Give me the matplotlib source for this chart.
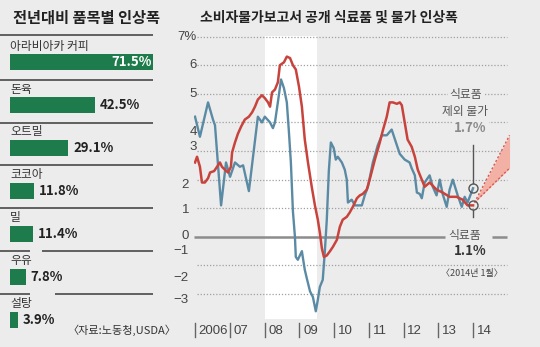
import matplotlib
matplotlib.use('Agg')
import matplotlib.pyplot as plt
from matplotlib import font_manager
from matplotlib.transforms import blended_transform_factory as btf

plt.rcParams['font.family'] = ['Noto Sans CJK KR', 'DejaVu Sans']

# ---------------- data ----------------
items = ['아라비아카 커피', '돈육', '오트밀', '코코아', '밀', '우유', '설탕']
item_pct = [71.5, 42.5, 29.1, 11.8, 11.4, 7.8, 3.9]

years = ['2006', '07', '08', '09', '10', '11', '12', '13', '14']
year_month = [0, 12, 24, 36, 48, 60, 72, 84, 96]   # months since Jan 2006

# non-food CPI (식료품 제외 물가), months since Jan 2006
blue_m = [0, 1.7, 4.5, 6.2, 6.9, 9.0, 10.7, 12.1, 13.8, 15.5, 16.6, 18.6, 21.7, 23.1,
          24.1, 25.9, 26.9, 27.6, 28.6, 29.7, 30.7, 31.7, 32.4, 33.1, 33.8, 34.5, 34.8,
          35.5, 36.9, 37.2, 37.9, 38.6, 39.7, 40.7, 41.7, 42.4, 43.1, 44.1, 44.8, 45.5,
          46.2, 46.9, 47.9, 48.6, 49.3, 50.7, 51.7, 52.4, 52.8, 54.1, 55.2, 57.6, 58.6,
          59.7, 61.4, 63.1, 64.5, 66.2, 67.9, 69.7, 70.7, 72.4, 74.1, 74.8, 75.9, 76.6,
          77.6, 78.3, 79.3, 81.0, 82.1, 83.4, 84.5, 85.5, 86.9, 87.9, 89.0, 90.7, 92.1,
          93.1, 94.1, 96]
blue_v = [4.2, 3.5, 4.7, 4.1, 3.9, 1.1, 2.6, 2.1, 2.6, 2.45, 2.5, 1.6, 4.2, 4.0,
          4.2, 4.0, 3.8, 4.0, 4.7, 5.5, 5.2, 4.7, 3.7, 2.6, 0.9, 0.0, -0.7,
          -0.8, -0.5, -0.7, -1.15, -1.45, -1.9, -2.1, -2.6, -2.2, -1.75, -1.5, -0.55, 0.6,
          2.3, 3.3, 3.1, 2.7, 2.8, 2.6, 2.35, 2.0, 1.2, 1.3, 1.1, 1.1, 1.45,
          1.75, 2.6, 3.2, 3.55, 3.55, 3.75, 3.2, 2.9, 2.7, 2.6, 2.4, 2.15, 1.55,
          1.5, 1.35, 1.9, 2.15, 1.75, 1.45, 2.0, 1.5, 1.05, 1.65, 2.0, 1.45, 1.05,
          1.4, 1.2, 1.7]

# food CPI (식료품)
red_m = [0, 0.7, 1.7, 2.4, 3.4, 4.5, 5.2, 6.6, 7.6, 8.6, 9.3, 10.3, 11.4, 12.4, 12.8,
         13.8, 14.8, 15.9, 17.2, 18.6, 19.7, 20.7, 21.7, 23.1, 24.1, 25.2, 25.9, 26.6,
         27.6, 28.6, 29.3, 30.7, 31.7, 32.8, 33.8, 34.8, 35.9, 36.9, 37.9, 39.0, 40.3,
         41.4, 42.4, 43.1, 43.8, 44.5, 45.5, 46.6, 47.6, 49.0, 50.0, 51.0, 52.4, 53.4,
         54.5, 55.9, 56.9, 57.9, 59.3, 60.3, 62.1, 63.8, 64.8, 66.2, 67.2, 68.3, 69.7,
         70.7, 71.4, 72.4, 73.4, 74.8, 75.9, 76.9, 78.3, 79.3, 81.0, 83.4, 85.5, 87.9,
         90.3, 92.4, 94.1, 96]
red_v = [2.6, 2.8, 2.45, 1.9, 1.9, 2.05, 2.25, 2.3, 2.45, 2.6, 2.45, 2.35, 2.25, 2.45, 2.95,
         3.3, 3.6, 3.85, 4.1, 4.2, 4.35, 4.55, 4.8, 4.95, 4.85, 4.7, 4.55, 5.05,
         5.15, 5.4, 6.0, 6.1, 6.3, 6.25, 6.0, 5.85, 5.25, 4.55, 3.4, 2.6, 1.75,
         1.1, 0.6, 0.15, -0.4, -0.7, -0.65, -0.5, -0.35, -0.1, 0.35, 0.6, 0.7, 0.85,
         1.05, 1.35, 1.45, 1.5, 1.65, 2.0, 2.7, 3.3, 3.7, 4.2, 4.7, 4.7, 4.65,
         4.7, 4.6, 4.0, 3.4, 3.15, 2.8, 2.35, 2.0, 1.75, 1.9, 1.65, 1.55, 1.4,
         1.4, 1.3, 1.1, 1.1]

# projection cone
proj_m = [96.5, 108.6]
proj_hi = [1.2, 3.55]
proj_lo = [1.2, 2.4]

recession = [24, 42]

ytick_labels = ['7%', '6', '5', '4', '3', '2', '1', '0', '−1', '−2', '−3']
ytick_label_pos = [7, 6, 5, 3.67, 3.15, 1.8, 0.95, 0.02, -0.5, -1.43, -2.2]
grid_vals = [7, 6, 5, 4, 3, 2, 1, -1, -2]

# ---------------- fonts ----------------
def has_font(name):
    try:
        font_manager.findfont(font_manager.FontProperties(family=name),
                              fallback_to_default=False)
        return True
    except Exception:
        return False

narrow = 'Liberation Sans Narrow' if has_font('Liberation Sans Narrow') else 'Liberation Sans'

# ---------------- figure ----------------
W, H = 540, 347
bg = '#ececec'
fig = plt.figure(figsize=(5.4, 3.47), dpi=100)
fig.patch.set_facecolor(bg)


def fr(x0, y0, x1, y1):
    return [x0 / W, 1 - y1 / H, (x1 - x0) / W, (y1 - y0) / H]


# ---- right line chart ----
ax = fig.add_axes(fr(194, 36, 511, 319))
ax.set_facecolor(bg)
ax.set_xlim(-0.35, 109.1)
ax.set_ylim(-2.87, 7.02)
for s in ax.spines.values():
    s.set_visible(False)
ax.set_xticks([])
ax.set_yticks([])

ax.axvspan(recession[0], recession[1], color='white', zorder=0, lw=0)
for v in grid_vals:
    ax.plot([0.7, 107.7], [v, v], color='#a0a0a0', lw=0.9, ls=(0, (1, 1.5)), zorder=1)
ax.plot([-0.35, 86.3], [0, 0], color='#8c8c8c', lw=1.8, zorder=1, solid_capstyle='butt')
ax.plot([102.6, 107.7], [0, 0], color='#8c8c8c', lw=1.8, zorder=1, solid_capstyle='butt')

ax.fill_between(proj_m, proj_lo, proj_hi, color='#f3b0a5', lw=0, zorder=2)
ax.plot(proj_m, proj_hi, color='#d9574c', lw=1, ls=(0, (1.5, 1.5)), zorder=2)
ax.plot(proj_m, proj_lo, color='#d9574c', lw=1, ls=(0, (1.5, 1.5)), zorder=2)

ax.plot(blue_m, blue_v, color='#5b8ba4', lw=1.7, zorder=3)
ax.plot(red_m, red_v, color='#c9433d', lw=1.8, zorder=4)

end_m = blue_m[-1]
ax.plot([end_m], [blue_v[-1]], marker='o', ms=6.5, mfc='none', mec='#555555', mew=1, zorder=5)
ax.plot([end_m], [red_v[-1]], marker='o', ms=6.5, mfc='none', mec='#555555', mew=1, zorder=5)
ax.plot([end_m, end_m], [blue_v[-1] + 0.17, 3.2], color='#555555', lw=1, zorder=5)
ax.plot([end_m, end_m], [red_v[-1] - 0.17, 0.69], color='#555555', lw=1, zorder=5)

bb = dict(facecolor=bg, edgecolor='none', pad=1.5)
ax.text(93.6, 4.98, '식료품', ha='center', va='center', fontsize=8.5, color='#555555', bbox=bb, zorder=6)
ax.text(93.2, 4.38, '제외 물가', ha='center', va='center', fontsize=8.5, color='#555555', zorder=6)
ax.text(95.0, 3.79, '1.7%', ha='center', va='center', fontsize=9.5, fontweight='bold',
        color='#8a8a8a', bbox=bb, zorder=6)
ax.text(93.2, 0.05, '식료품', ha='center', va='center', fontsize=8.5, color='#555555', zorder=6)
ax.text(95.0, -0.5, '1.1%', ha='center', va='center', fontsize=9.5, fontweight='bold',
        color='#333333', zorder=6)
ax.text(95.5, -1.27, '〈2014년 1월〉', ha='center', va='center', fontsize=6.5,
        color='#444444', zorder=6)

# x axis year markers
tr = btf(ax.transData, ax.transAxes)
for m, lab in zip(year_month, years):
    ax.plot([m, m], [-0.014, -0.064], transform=tr, clip_on=False, color='#666666', lw=1)
    ax.text(m + 1.3, -0.044, lab, transform=tr, ha='left', va='center', fontsize=9.5,
            family=narrow, color='#444444')

# y labels
try_ = btf(fig.transFigure, ax.transData)
for i, (lab, pos) in enumerate(zip(ytick_labels, ytick_label_pos)):
    xr = 197 if i < 5 else 189
    ax.text(xr / W, pos, lab, transform=try_, ha='right', va='center', fontsize=9.5,
            family=[narrow, 'DejaVu Sans'], color='#444444')

fig.text(200 / W, 1 - 18 / H, '소비자물가보고서 공개 식료품 및 물가 인상폭', fontsize=10,
         fontweight='bold', va='center', ha='left', color='#222222')

# ---- left bar panel ----
axb = fig.add_axes(fr(0, 19.5, 160, 341.5))
axb.set_xlim(-5, 75)
axb.set_ylim(6.5, -1.0)
axb.axis('off')
rows = list(range(len(items)))
axb.barh(rows, item_pct, height=0.37, color='#1e7b4c', left=0, zorder=2)

line_kw = dict(color='#555555', lw=1.3, clip_on=False, solid_capstyle='butt')
axb.plot([-5, 71.5], [-0.64, -0.64], **line_kw)
gaps = {4: (10, 16), 5: (10, 22.5)}
for i in range(len(items) - 1):
    y = i + 0.4
    if i in gaps:
        g0, g1 = gaps[i]
        axb.plot([-5, g0], [y, y], **line_kw)
        axb.plot([g1, 71.5], [y, y], **line_kw)
    else:
        axb.plot([-5, 71.5], [y, y], **line_kw)

for i, (name, p) in enumerate(zip(items, item_pct)):
    axb.text(0, i - 0.38, name, ha='left', va='center', fontsize=8.5, color='#333333')
    if i == 0:
        axb.text(p - 0.8, i, f'{p}%', ha='right', va='center', fontsize=9.5,
                 fontweight='bold', color='white', zorder=3)
    else:
        axb.text(p + 2.5, i, f'{p}%', ha='left', va='center', fontsize=9.5,
                 fontweight='bold', color='#222222', zorder=3)

fig.text(13 / W, 1 - 18 / H, '전년대비 품목별 인상폭', fontsize=11, fontweight='bold',
         va='center', ha='left', color='#222222')
fig.text(176 / W, 1 - 330 / H, '〈자료:노동청,USDA〉', fontsize=8, va='center', ha='right',
         color='#333333')

fig.savefig('out.png', dpi=100, facecolor=bg)
